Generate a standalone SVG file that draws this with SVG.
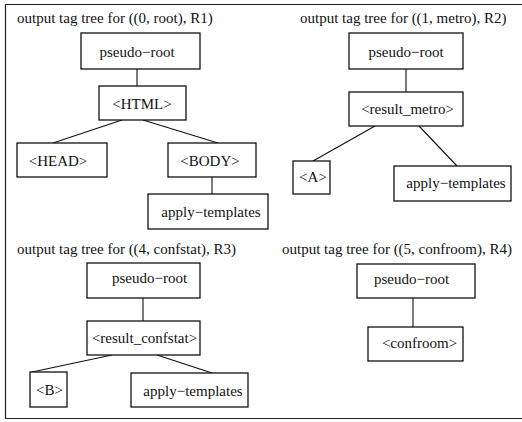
<svg xmlns="http://www.w3.org/2000/svg" width="522" height="422" viewBox="0 0 522 422">
<style>
.box{fill:#fff;stroke:#111;stroke-width:1.3}
.edge{stroke:#111;stroke-width:1.1;fill:none}
text{font-family:"Liberation Serif","Times New Roman",serif;font-size:15px;fill:#111}
.c{text-anchor:middle}
</style>
<rect width="522" height="422" fill="#fff"/>
<path d="M522,4.5 H5.5 V418.5 H522" fill="none" stroke="#222" stroke-width="1.2"/>
<g id="titles">
<text x="17" y="23">output tag tree for ((0, root), R1)</text>
<text x="300" y="23">output tag tree for ((1, metro), R2)</text>
<text x="17" y="254">output tag tree for ((4, confstat), R3)</text>
<text x="282" y="254">output tag tree for ((5, confroom), R4)</text>
</g>
<g id="connectors">
<line class="edge" x1="137" y1="69" x2="137" y2="86"/>
<line class="edge" x1="122" y1="120" x2="53" y2="143"/>
<line class="edge" x1="143" y1="120" x2="218" y2="143"/>
<line class="edge" x1="212" y1="177" x2="212" y2="194"/>
<line class="edge" x1="406" y1="69" x2="406" y2="92"/>
<line class="edge" x1="375" y1="126" x2="313" y2="161"/>
<line class="edge" x1="419" y1="126" x2="457" y2="166"/>
<line class="edge" x1="143" y1="298" x2="143" y2="321"/>
<line class="edge" x1="112" y1="355" x2="32" y2="372"/>
<line class="edge" x1="157" y1="355" x2="212" y2="373"/>
<line class="edge" x1="413" y1="298" x2="413" y2="327"/>
</g>
<g id="r1-pseudo-root"><rect class="box" x="81" y="33" width="119" height="36"/><text class="c" x="137" y="57">pseudo−root</text></g>
<g id="r1-html"><rect class="box" x="99" y="86" width="87" height="34"/><text class="c" x="142" y="109">&lt;HTML&gt;</text></g>
<g id="r1-head"><rect class="box" x="17" y="143" width="90" height="34"/><text class="c" x="58" y="166">&lt;HEAD&gt;</text></g>
<g id="r1-body"><rect class="box" x="168" y="143" width="88" height="34"/><text class="c" x="210" y="166">&lt;BODY&gt;</text></g>
<g id="r1-apply"><rect class="box" x="148" y="194" width="120" height="35"/><text class="c" x="211" y="217">apply−templates</text></g>
<g id="r2-pseudo-root"><rect class="box" x="349" y="33" width="114" height="36"/><text class="c" x="406" y="57">pseudo−root</text></g>
<g id="r2-result-metro"><rect class="box" x="349" y="92" width="114" height="34"/><text class="c" x="407.5" y="114">&lt;result_metro&gt;</text></g>
<g id="r2-a"><rect class="box" x="293" y="161" width="37" height="33"/><text class="c" x="313" y="182">&lt;A&gt;</text></g>
<g id="r2-apply"><rect class="box" x="394" y="166" width="117" height="35"/><text class="c" x="456" y="188">apply−templates</text></g>
<g id="r3-pseudo-root"><rect class="box" x="87" y="263" width="113" height="35"/><text class="c" x="149.5" y="283">pseudo−root</text></g>
<g id="r3-result-confstat"><rect class="box" x="87" y="321" width="113" height="34"/><text class="c" x="144.5" y="343">&lt;result_confstat&gt;</text></g>
<g id="r3-b"><rect class="box" x="30" y="372" width="37" height="35"/><text class="c" x="49.5" y="395">&lt;B&gt;</text></g>
<g id="r3-apply"><rect class="box" x="131" y="373" width="117" height="34"/><text class="c" x="193" y="396">apply−templates</text></g>
<g id="r4-pseudo-root"><rect class="box" x="357" y="264" width="118" height="34"/><text class="c" x="411.5" y="284">pseudo−root</text></g>
<g id="r4-confroom"><rect class="box" x="368" y="327" width="95" height="34"/><text class="c" x="419.5" y="348">&lt;confroom&gt;</text></g>
</svg>
